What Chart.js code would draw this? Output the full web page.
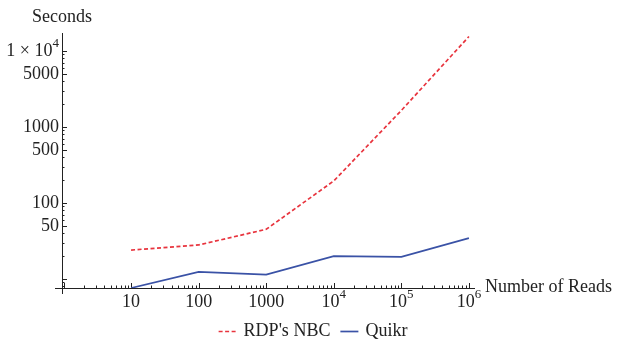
<!DOCTYPE html>
<html>
<head>
<meta charset="utf-8">
<script src="https://cdn.jsdelivr.net/npm/chart.js@4"></script>
<style>
  html, body { margin: 0; padding: 0; background: #fff; }
</style>
</head>
<body>
<canvas id="myChart" width="625" height="346"></canvas>
<script>
var reads = [10, 100, 1000, 10000, 100000, 1000000];
var rdpNbc = [24, 28, 45, 195, 1650, 15500];
var quikr = [7.6, 12.4, 11.4, 20, 19.5, 34.5];
var seriesNames = ["RDP's NBC", "Quikr"];
var colorHexs = ['#e8343e', '#3a52a6'];
var yTicks = [50, 100, 500, 1000, 5000, 10000];
var xTicks = [10, 100, 1000, 10000, 100000, 1000000];

var FONT = '18px "Liberation Serif", serif';
var SUP = '13px "Liberation Serif", serif';

function toPoints(vals) {
  return reads.map(function (r, i) { return { x: r, y: vals[i] }; });
}

// axes drawn Mathematica-style: crossing lines with inward ticks
var axesPlugin = {
  id: 'axes',
  beforeDatasetsDraw: function (chart) {
    var c = chart.ctx, xs = chart.scales.x, ys = chart.scales.y, a = chart.chartArea;
    c.save();
    c.strokeStyle = '#222';
    c.lineWidth = 1;
    c.beginPath();
    c.moveTo(a.left - 7, a.bottom + 0.5); c.lineTo(a.right, a.bottom + 0.5);
    c.moveTo(a.left + 0.5, a.top); c.lineTo(a.left + 0.5, a.bottom + 6);
    c.stroke();

    c.beginPath();
    for (var e = 0; e <= 4; e++) {
      for (var m = 1; m <= 9; m++) {
        var v = m * Math.pow(10, e);
        if (v < ys.min || v > ys.max) continue;
        var py = Math.round(ys.getPixelForValue(v)) + 0.5;
        var len = (m === 1 || m === 5) ? 5 : 2.5;
        c.moveTo(a.left, py); c.lineTo(a.left + len, py);
      }
    }
    for (var e2 = 0; e2 <= 6; e2++) {
      for (var m2 = 1; m2 <= 9; m2++) {
        var v2 = m2 * Math.pow(10, e2);
        if (v2 < xs.min || v2 > xs.max) continue;
        var px = Math.round(xs.getPixelForValue(v2)) + 0.5;
        var len2 = m2 === 1 ? 5 : 2.5;
        c.moveTo(px, a.bottom); c.lineTo(px, a.bottom - len2);
      }
    }
    c.stroke();

    c.fillStyle = '#222';
    c.font = FONT;
    c.textBaseline = 'middle';

    // y labels
    c.textAlign = 'right';
    yTicks.forEach(function (v) {
      var py = ys.getPixelForValue(v);
      if (v >= 10000) {
        var exp = String(Math.round(Math.log10(v)));
        c.font = SUP;
        var ew = c.measureText(exp).width;
        c.fillText(exp, a.left - 3, py - 7);
        c.font = FONT;
        c.fillText('1 \u00d7 10', a.left - 3 - ew, py);
      } else {
        c.fillText(String(v), a.left - 3, py);
      }
    });

    // x labels
    c.textAlign = 'left';
    xTicks.forEach(function (v) {
      var px = xs.getPixelForValue(v);
      var e = Math.round(Math.log10(v));
      var py = a.bottom + 14;
      c.font = FONT;
      if (e <= 3) {
        var t = String(v), w = c.measureText(t).width;
        c.fillText(t, px - w / 2, py);
      } else {
        var bw = c.measureText('10').width;
        c.font = SUP;
        var sw = c.measureText(String(e)).width;
        var x0 = px - (bw + sw) / 2;
        c.font = FONT;
        c.fillText('10', x0, py);
        c.font = SUP;
        c.fillText(String(e), x0 + bw, py - 7);
      }
    });

    c.font = FONT;
    c.fillText('Seconds', 32, 17);
    c.fillText('Number of Reads', a.right + 10, a.bottom - 1);
    c.restore();
  },
  afterDraw: function (chart) {
    // legend below the plot
    var c = chart.ctx;
    c.save();
    c.font = FONT;
    c.textBaseline = 'middle';
    c.textAlign = 'left';
    var sw = 18, gapT = 7, gapI = 10, y = 331;
    var total = 0;
    seriesNames.forEach(function (n, i) {
      total += sw + gapT + c.measureText(n).width + (i ? 0 : gapI);
    });
    var x = 313 - total / 2;
    chart.data.datasets.forEach(function (ds, i) {
      c.strokeStyle = ds.borderColor;
      c.lineWidth = ds.borderWidth;
      c.setLineDash(ds.borderDash || []);
      c.beginPath();
      c.moveTo(x, y + 0.5); c.lineTo(x + sw, y + 0.5);
      c.stroke();
      c.setLineDash([]);
      c.fillStyle = '#222';
      c.fillText(seriesNames[i], x + sw + gapT, y);
      x += sw + gapT + c.measureText(seriesNames[i]).width + gapI;
    });
    c.restore();
  }
};

var ctx = document.getElementById('myChart').getContext('2d');
var myChart = new Chart(ctx, {
  type: 'line',
  data: {
    datasets: [{
      label: seriesNames[0],
      data: toPoints(rdpNbc),
      borderColor: colorHexs[0],
      borderWidth: 1.7,
      borderDash: [4, 2.5],
      pointRadius: 0,
      tension: 0,
      fill: false
    }, {
      label: seriesNames[1],
      data: toPoints(quikr),
      borderColor: colorHexs[1],
      borderWidth: 1.7,
      pointRadius: 0,
      tension: 0,
      fill: false
    }]
  },
  options: {
    responsive: false,
    animation: false,
    layout: { padding: { left: 62, right: 150, top: 33, bottom: 58 } },
    scales: {
      x: { type: 'logarithmic', display: false, min: 0.95, max: 1230000 },
      y: { type: 'logarithmic', display: false, min: 7.6, max: 17250 }
    },
    plugins: {
      legend: { display: false },
      tooltip: { enabled: false }
    }
  },
  plugins: [axesPlugin]
});
</script>
</body>
</html>
